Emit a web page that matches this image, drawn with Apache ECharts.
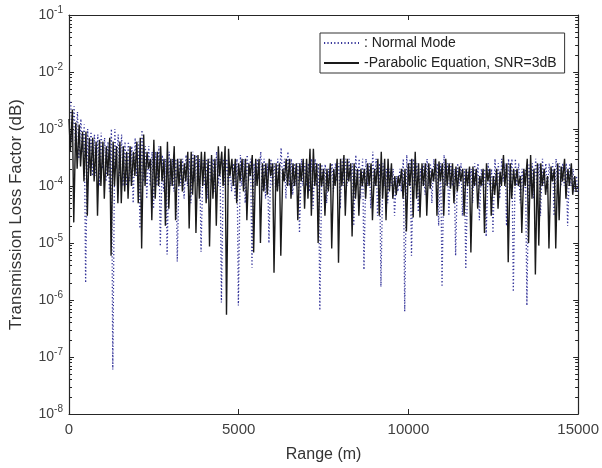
<!DOCTYPE html>
<html>
<head>
<meta charset="utf-8">
<script src="https://cdn.jsdelivr.net/npm/echarts@6/dist/echarts.min.js"></script>
<style>html,body{margin:0;padding:0;background:#fff;}#c{width:602px;height:468px;}</style>
</head>
<body>
<div id="c"></div>
<script>
// Sampling cells (m): each cell holds one oscillation peak and the trough that follows it
const cellStep = 100;
const nmStart = 50;
const peStart = 0;
const troughShift = 40;

// Normal Mode (dotted blue): peaks and troughs per cell
const nmPeaks = [
  3e-3, 2.5e-3, 2e-3, 1.5e-3, 1.2e-3, 1e-3, 9e-4, 8e-4, 8e-4, 8.6e-4, 7e-4, 6e-4, 1e-3, 1e-3, 8e-4,
  8e-4, 6e-4, 6e-4, 5e-4, 7e-4, 6e-4, 9.6e-4, 5e-4, 5e-4, 4e-4, 4e-4, 5e-4, 3.5e-4, 3e-4, 4e-4,
  3e-4, 3e-4, 3e-4, 3e-4, 3.5e-4, 3e-4, 4e-4, 3.5e-4, 3e-4, 3e-4, 3e-4, 3e-4, 3e-4, 4e-4, 3e-4,
  3e-4, 3e-4, 2e-4, 2.5e-4, 3e-4, 3.5e-4, 3e-4, 3.5e-4, 3e-4, 2.5e-4, 3e-4, 4e-4, 3e-4, 2.5e-4, 3e-4,
  2.5e-4, 3e-4, 4.7e-4, 3e-4, 4e-4, 3e-4, 2.5e-4, 2.5e-4, 3e-4, 2.5e-4, 2.5e-4, 3e-4, 3e-4, 2.5e-4, 2.4e-4,
  2.4e-4, 2e-4, 2.5e-4, 2.5e-4, 2.5e-4, 3e-4, 3e-4, 3e-4, 2.5e-4, 3.5e-4, 3e-4, 3e-4, 3e-4, 2.5e-4, 4e-4,
  3e-4, 2.5e-4, 2.5e-4, 2e-4, 2e-4, 2e-4, 1.5e-4, 2e-4, 3e-4, 3.5e-4, 3e-4, 3e-4, 2.5e-4, 2e-4, 2.5e-4,
  3e-4, 2.5e-4, 3e-4, 2.5e-4, 2.5e-4, 3.5e-4, 2.5e-4, 2.5e-4, 2e-4, 2.5e-4, 2.5e-4, 2e-4, 2e-4, 2e-4, 2.5e-4,
  2.5e-4, 2e-4, 2e-4, 2.5e-4, 2e-4, 3e-4, 2.5e-4, 3e-4, 2.5e-4, 3e-4, 3e-4, 3e-4, 2.5e-4, 2e-4, 2e-4,
  2.5e-4, 2.5e-4, 3e-4, 2.5e-4, 3e-4, 2.5e-4, 2.5e-4, 2.5e-4, 3e-4, 2.5e-4, 2.5e-4, 2.5e-4, 2.5e-4, 2e-4, 1.5e-4
];
const nmTroughs = [
  6e-4, 5e-4, 3e-4, 4e-4, 2e-6, 2e-4, 1.5e-4, 1.5e-4, 1e-4, 2e-4, 1.2e-4, 8e-5, 6e-8, 2e-4, 1.5e-4,
  1e-4, 1e-4, 1.2e-4, 5e-5, 1.5e-4, 1.8e-5, 1.2e-4, 6e-5, 1e-4, 4e-5, 1e-4, 8.8e-6, 8e-5, 6.3e-6, 1e-4,
  8e-5, 4.7e-6, 1e-4, 6e-5, 1e-4, 5e-5, 1.2e-4, 1e-4, 7e-6, 1e-4, 6e-5, 1.2e-4, 8e-5, 1e-4, 9e-7,
  1e-4, 1e-4, 8e-5, 6e-5, 8e-7, 1e-4, 5e-5, 1.2e-4, 3.7e-6, 1e-4, 1.3e-4, 8e-5, 6e-5, 1e-5, 1e-4,
  8e-5, 1e-4, 1.2e-4, 6e-5, 1e-4, 7e-5, 1e-4, 1.5e-5, 1e-4, 1e-4, 8e-5, 4e-5, 1e-4, 6.6e-7, 1e-4,
  5e-5, 1e-4, 8e-5, 1.2e-4, 4e-5, 1e-4, 1e-4, 1.2e-4, 2e-5, 1e-4, 6e-5, 3.4e-6, 1e-4, 4e-5, 1e-4,
  3e-5, 1.7e-6, 1e-4, 5e-5, 1e-4, 3e-5, 8e-5, 8e-5, 6.3e-7, 1e-4, 6e-6, 1e-4, 3.5e-5, 1e-4, 7e-5,
  1e-4, 5e-5, 1.2e-4, 2e-5, 1.7e-6, 1e-4, 3e-5, 1e-4, 6e-6, 1e-4, 3e-5, 3.5e-6, 1e-4, 5e-5, 1e-4,
  2.5e-5, 1e-4, 1.3e-5, 1e-4, 1.5e-5, 1e-4, 6e-5, 1.2e-4, 2e-5, 1e-4, 1.4e-6, 1e-4, 5e-5, 8e-5, 8e-7,
  1e-4, 6e-5, 1e-4, 3e-5, 1e-4, 8e-5, 1.2e-4, 3e-5, 1e-4, 1e-4, 1e-4, 2e-5, 1e-4, 8e-5, 8e-5
];

// Parabolic Equation, SNR=3dB (solid black): peaks and troughs per cell
const pePeaks = [
  1.5e-3, 2.2e-3, 1.3e-3, 1.2e-3, 9e-4, 9e-4, 7e-4, 7e-4, 6e-4, 6.5e-4, 6e-4, 5e-4, 7e-4, 6e-4, 5e-4,
  6e-4, 5e-4, 4e-4, 5e-4, 4e-4, 6e-4, 7e-4, 8e-4, 4e-4, 3e-4, 6.5e-4, 4e-4, 5e-4, 3e-4, 6e-4,
  3e-4, 5e-4, 3e-4, 3e-4, 2.5e-4, 4e-4, 4e-4, 3.5e-4, 3.5e-4, 4e-4, 4e-4, 3e-4, 3.5e-4, 3e-4, 5e-4,
  4e-4, 5e-4, 4.5e-4, 3e-4, 3e-4, 2.5e-4, 3e-4, 3e-4, 2.5e-4, 3.5e-4, 3e-4, 3e-4, 2.5e-4, 2.5e-4, 3e-4,
  2.5e-4, 2.5e-4, 2.5e-4, 2e-4, 3e-4, 3e-4, 2.5e-4, 2.5e-4, 2.5e-4, 3e-4, 3e-4, 4.5e-4, 4.5e-4, 2.5e-4, 2.5e-4,
  2e-4, 2e-4, 2.5e-4, 2e-4, 3e-4, 3e-4, 3.5e-4, 3e-4, 2.5e-4, 2.5e-4, 2e-4, 2e-4, 2e-4, 2.5e-4, 2.5e-4,
  2e-4, 3e-4, 4e-4, 3e-4, 3e-4, 2.5e-4, 1.5e-4, 1.5e-4, 2e-4, 2e-4, 2.5e-4, 3e-4, 4e-4, 2.5e-4, 2.5e-4,
  2.5e-4, 2.5e-4, 2e-4, 3e-4, 2.7e-4, 2.5e-4, 3e-4, 2.5e-4, 2.5e-4, 2.2e-4, 2.2e-4, 2e-4, 2e-4, 2.2e-4, 2.2e-4,
  2e-4, 1.5e-4, 2e-4, 2.5e-4, 2e-4, 1.5e-4, 2e-4, 1.8e-4, 3.5e-4, 2.5e-4, 2.5e-4, 2e-4, 2e-4, 1.5e-4, 2e-4,
  3e-4, 3.5e-4, 2e-4, 2.5e-4, 2.5e-4, 2e-4, 1.5e-4, 2.2e-4, 2e-4, 2.5e-4, 2.2e-4, 3e-4, 2e-4, 2.5e-4, 1.5e-4
];
const peTroughs = [
  4e-4, 2.3e-5, 2e-4, 2.2e-4, 1.2e-4, 3e-5, 1.5e-4, 1.2e-4, 3e-5, 1e-4, 6e-5, 1.5e-4, 6e-6, 1e-4, 5e-5,
  5e-5, 8e-5, 6e-5, 1e-4, 1.5e-4, 5e-5, 8e-6, 1e-4, 2e-4, 2.5e-5, 6e-5, 1e-4, 1.2e-4, 2e-5, 4e-5,
  1e-4, 2.5e-5, 1e-4, 8e-5, 1.2e-4, 1.8e-5, 7e-5, 1.5e-5, 6e-5, 1e-4, 5e-5, 8.7e-6, 6e-5, 2e-5, 1.5e-4,
  1e-4, 5.5e-7, 1.5e-4, 1e-4, 5e-5, 1.2e-4, 8e-5, 2.5e-5, 1.5e-4, 6.8e-6, 1e-4, 1e-5, 8e-5, 7e-5, 1.5e-4,
  3e-6, 8e-5, 6e-6, 1.2e-4, 1e-4, 6e-5, 1e-4, 2.5e-5, 1.2e-4, 4e-5, 6e-5, 3e-5, 1e-4, 1e-5, 1e-4,
  3e-5, 8e-5, 8e-6, 1e-4, 4.5e-6, 1e-4, 3e-5, 1.2e-4, 1.3e-5, 6e-5, 3e-5, 1e-4, 6e-5, 1e-4, 2.5e-5,
  1e-4, 3e-5, 6e-5, 2.5e-5, 8e-5, 6e-5, 7e-5, 1e-4, 6e-5, 1.6e-5, 1e-4, 2.8e-5, 6e-5, 2.8e-5, 1e-4,
  3e-5, 9e-5, 1.2e-4, 3e-5, 1.2e-4, 3e-5, 1e-4, 9e-5, 5e-5, 8e-5, 1.2e-4, 3e-5, 1e-4, 6.8e-6, 1e-4,
  4e-5, 1e-4, 1.5e-5, 1.2e-4, 3e-5, 7e-5, 4e-5, 1e-4, 1e-4, 4.6e-6, 6e-5, 1e-4, 1e-4, 1.5e-5, 1e-4,
  1e-5, 6e-5, 2.8e-6, 9e-6, 1e-4, 7e-5, 8e-6, 1.2e-4, 8e-6, 2.5e-5, 1.2e-4, 6e-5, 1e-4, 7e-5, 8e-5
];
const xTicks = [0, 5000, 10000, 15000];
const seriesNames = [': Normal Mode', '-Parabolic Equation, SNR=3dB'];

function buildSeries(peaks, troughs, start) {
  const out = [];
  peaks.forEach((p, i) => {
    const x = start + i * cellStep;
    out.push([x, p]);
    out.push([x + troughShift, troughs[i]]);
  });
  return out;
}
const nmData = buildSeries(nmPeaks, nmTroughs, nmStart);
const peData = buildSeries(pePeaks, peTroughs, peStart);

const axisColor = '#262626';
const labelColor = '#404040';
const font = 'Liberation Sans, Arial, Helvetica, sans-serif';

const chart = echarts.init(document.getElementById('c'), null, {renderer: 'canvas'});
chart.setOption({
  animation: false,
  backgroundColor: '#fff',
  textStyle: {fontFamily: font},
  grid: {left: 67, right: 22, top: 15, bottom: 53, show: false},
  legend: {
    left: 320, top: 33,
    orient: 'vertical',
    backgroundColor: '#fff',
    borderColor: '#333', borderWidth: 1,
    padding: [3, 8, 3, 3],
    itemGap: 6,
    itemWidth: 35, itemHeight: 14,
    itemStyle: {opacity: 0, borderWidth: 0},
    textStyle: {fontSize: 14, color: '#222', fontFamily: font},
    data: seriesNames
  },
  xAxis: [{
    type: 'value', min: 0, max: 15000, interval: 5000,
    name: 'Range (m)', nameLocation: 'middle', nameGap: 33,
    nameTextStyle: {fontSize: 16, color: '#333', fontFamily: font},
    axisLine: {show: true, onZero: false, lineStyle: {color: axisColor, width: 1.2}},
    axisTick: {show: true, inside: true, length: 5, lineStyle: {color: axisColor}},
    axisLabel: {fontSize: 15, color: labelColor, margin: 8, fontFamily: font,
      formatter: v => (xTicks.indexOf(v) >= 0 ? String(v) : '')},
    splitLine: {show: false}
  }, {
    type: 'value', min: 0, max: 15000, interval: 5000, position: 'top',
    axisLine: {show: true, onZero: false, lineStyle: {color: axisColor, width: 1.2}},
    axisTick: {show: true, inside: true, length: 5, lineStyle: {color: axisColor}},
    axisLabel: {show: false}, splitLine: {show: false}
  }],
  yAxis: [{
    type: 'log', logBase: 10, min: 1e-8, max: 1e-1,
    name: 'Transmission Loss Factor (dB)', nameLocation: 'middle', nameGap: 44,
    nameTextStyle: {fontSize: 17, color: '#333', fontFamily: font},
    axisLine: {show: true, onZero: false, lineStyle: {color: axisColor, width: 1.2}},
    axisTick: {show: true, inside: true, length: 5, lineStyle: {color: axisColor}},
    minorTick: {show: true, splitNumber: 9, length: 3, lineStyle: {color: axisColor}},
    axisLabel: {
      margin: 6, color: labelColor,
      formatter: v => '{b|10}{s|' + Math.round(Math.log10(v)) + '}',
      rich: {
        b: {fontSize: 14, color: labelColor, fontFamily: font},
        s: {fontSize: 10, color: labelColor, fontFamily: font, padding: [0, 0, 9, 0]}
      }
    },
    splitLine: {show: false}
  }, {
    type: 'log', logBase: 10, min: 1e-8, max: 1e-1, position: 'right',
    axisLine: {show: true, onZero: false, lineStyle: {color: axisColor, width: 1.2}},
    axisTick: {show: true, inside: true, length: 5, lineStyle: {color: axisColor}},
    minorTick: {show: true, splitNumber: 9, length: 3, lineStyle: {color: axisColor}},
    axisLabel: {show: false}, splitLine: {show: false}
  }],
  series: [{
    name: seriesNames[0], type: 'line', data: nmData,
    showSymbol: false, symbol: 'none',
    lineStyle: {color: '#35359a', width: 1.3, type: [1.2, 2.2]},
    itemStyle: {color: '#35359a'},
    z: 2
  }, {
    name: seriesNames[1], type: 'line', data: peData,
    showSymbol: false, symbol: 'none',
    lineStyle: {color: '#1a1a1a', width: 1.4},
    itemStyle: {color: '#1a1a1a'},
    z: 3
  }]
});
</script>
</body>
</html>
